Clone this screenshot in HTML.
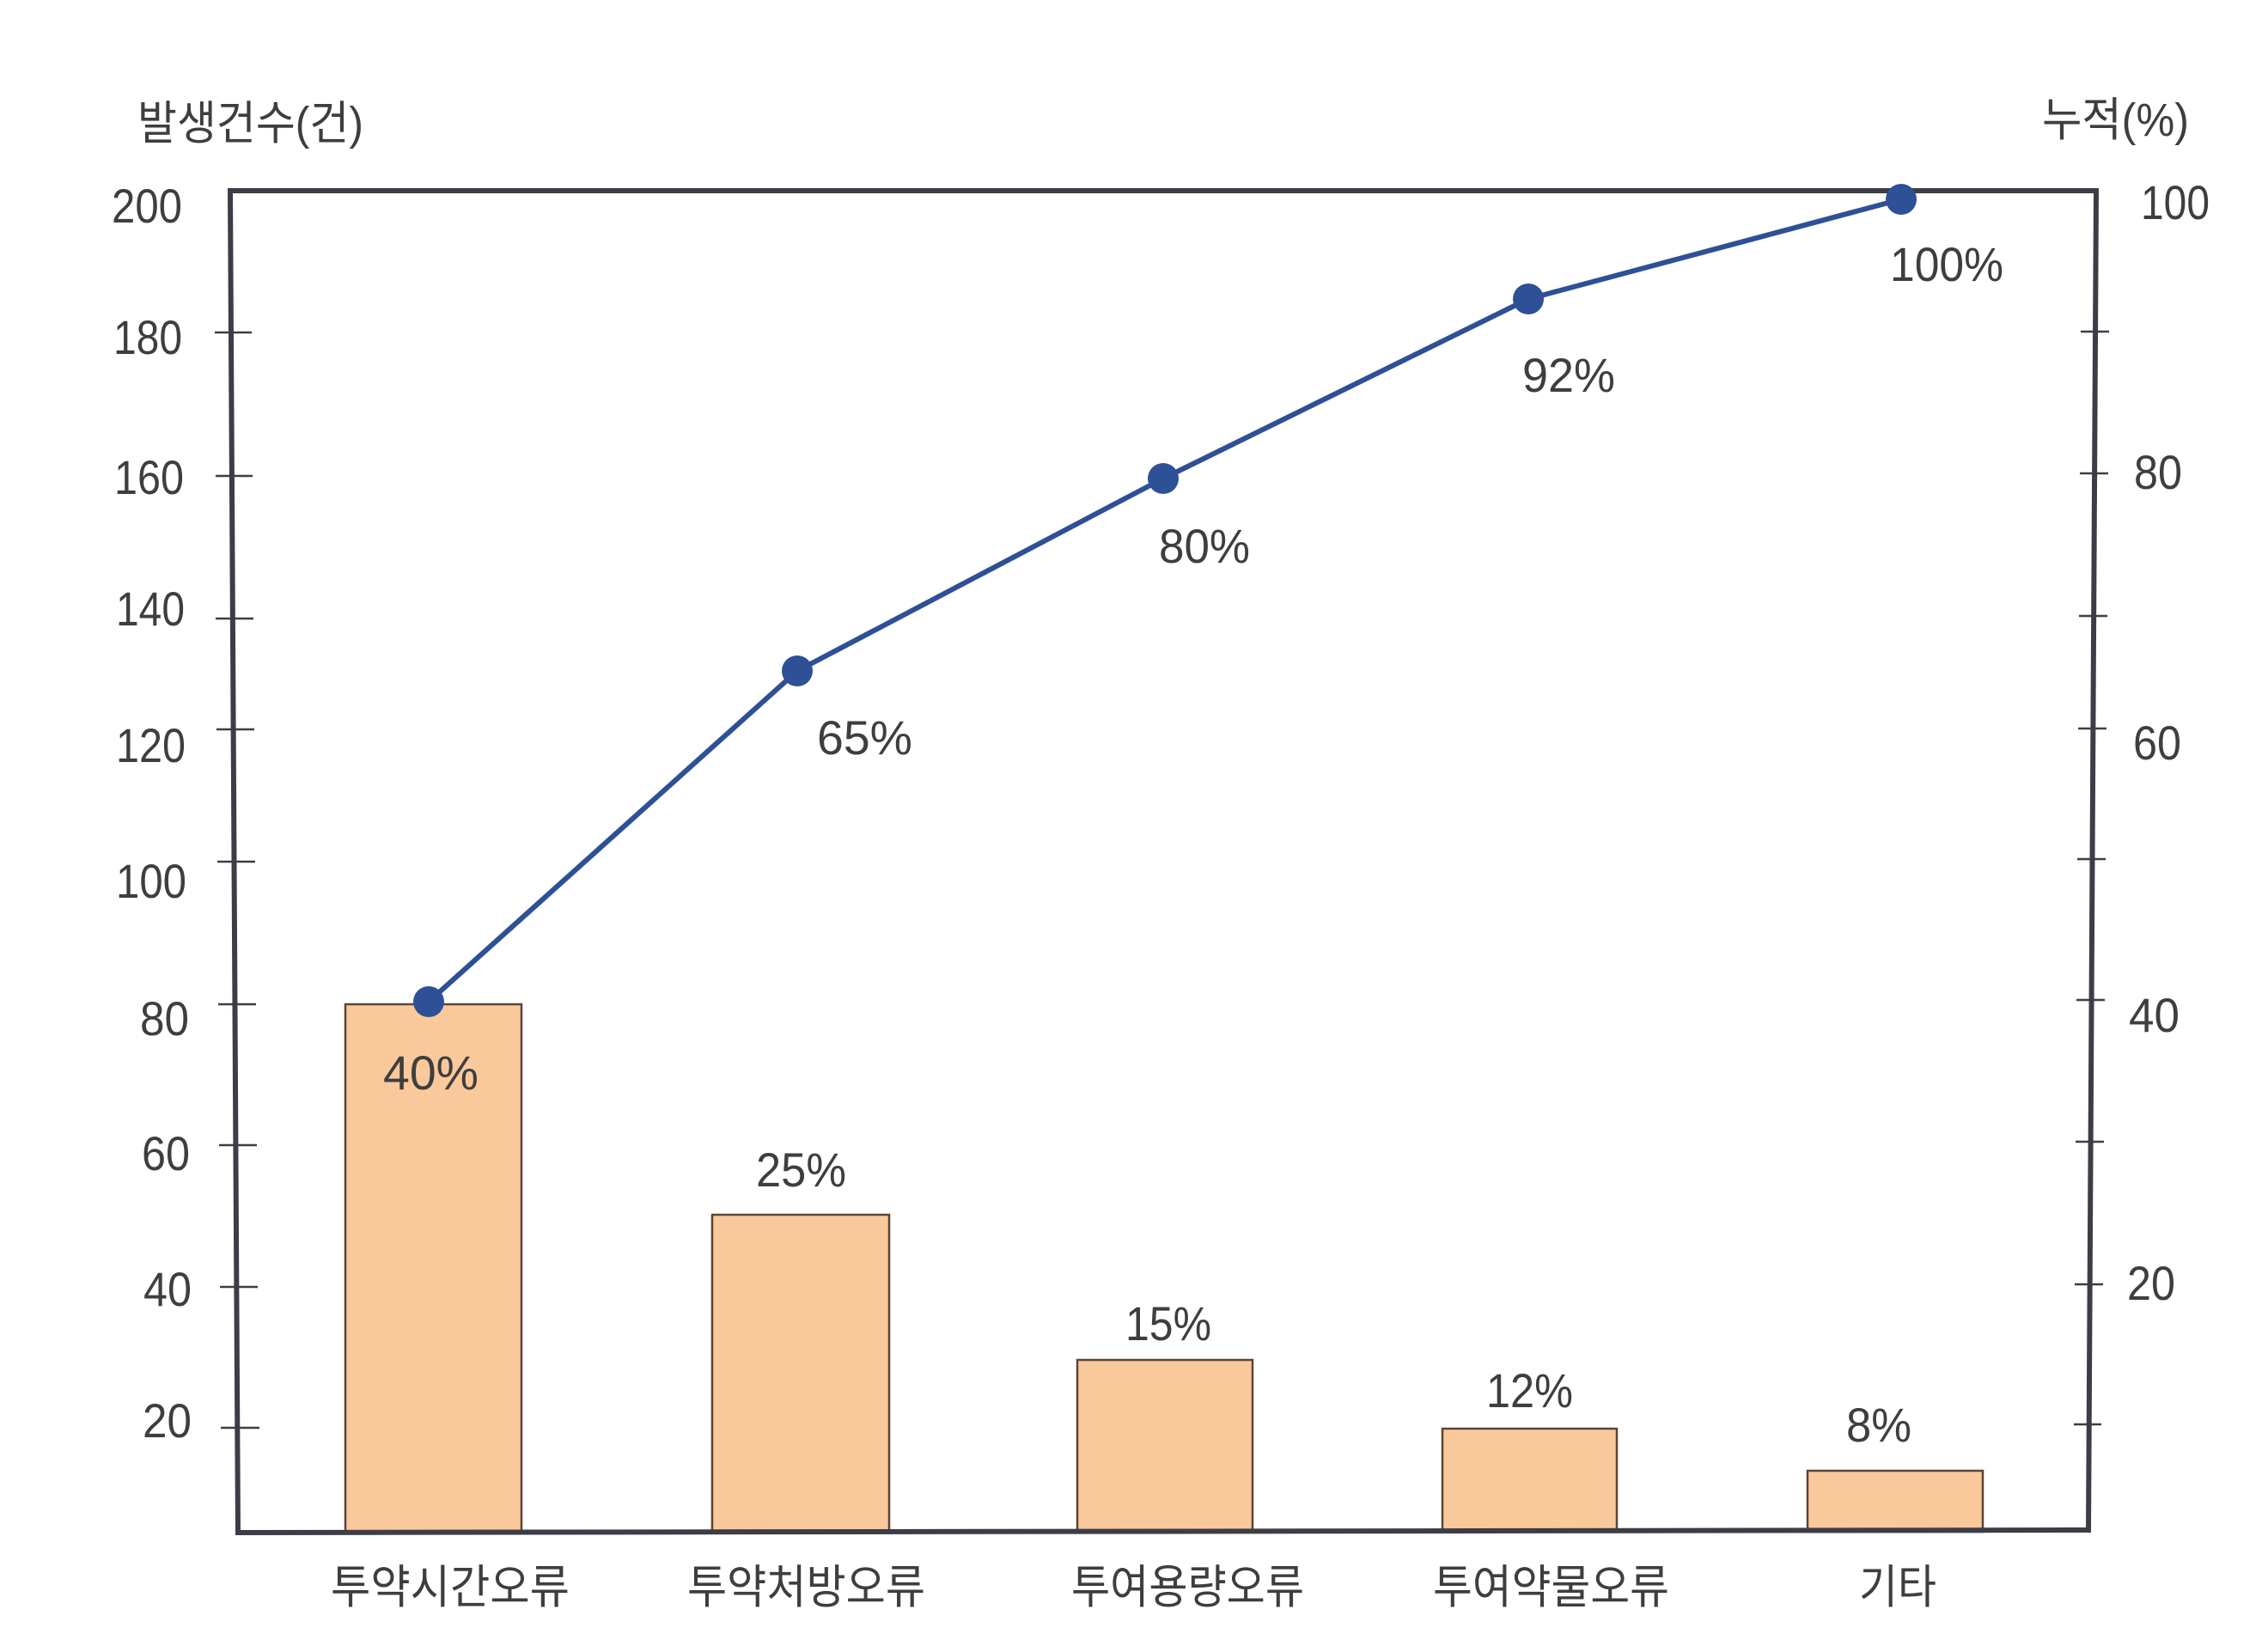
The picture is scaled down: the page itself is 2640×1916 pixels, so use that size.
<!DOCTYPE html>
<html>
<head>
<meta charset="utf-8">
<style>
  html,body{margin:0;padding:0;background:#ffffff;}
  svg{display:block;}
  text{fill:#3e3e3e;}
  .num{font-family:"Liberation Sans","Noto Sans CJK KR",sans-serif;font-size:56px;}
  .kr{font-family:"Liberation Sans","Noto Sans CJK KR",sans-serif;font-size:54px;}
</style>
</head>
<body>
<svg width="2640" height="1916" viewBox="0 0 2640 1916" xmlns="http://www.w3.org/2000/svg">
  <rect x="0" y="0" width="2640" height="1916" fill="#ffffff"/>

  <!-- axis titles -->
  <text class="kr" x="160" y="162" textLength="263" lengthAdjust="spacingAndGlyphs">발생건수(건)</text>
  <text class="kr" x="2377" y="158" textLength="171" lengthAdjust="spacingAndGlyphs">누적(%)</text>

  <!-- bars -->
  <g fill="#f9c99c" stroke="#5a4636" stroke-width="2.5">
    <rect x="402" y="1169" width="205" height="614"/>
    <rect x="829" y="1414" width="206" height="369"/>
    <rect x="1254" y="1583" width="204" height="200"/>
    <rect x="1679" y="1663" width="203" height="120"/>
    <rect x="2104" y="1712" width="204" height="71"/>
  </g>

  <!-- frame -->
  <polygon points="268,222 2440,222 2431,1781 277,1784" fill="none" stroke="#3d3d47" stroke-width="6" stroke-linejoin="miter"/>

  <!-- left ticks -->
  <g stroke="#3d3d47" stroke-width="2.5">
    <line x1="250" y1="387" x2="293" y2="387"/>
    <line x1="251" y1="554" x2="294" y2="554"/>
    <line x1="251" y1="720" x2="295" y2="720"/>
    <line x1="252" y1="849" x2="296" y2="849"/>
    <line x1="253" y1="1003" x2="297" y2="1003"/>
    <line x1="254" y1="1169" x2="298" y2="1169"/>
    <line x1="255" y1="1333" x2="299" y2="1333"/>
    <line x1="256" y1="1498" x2="300" y2="1498"/>
    <line x1="257" y1="1662" x2="302" y2="1662"/>
  </g>

  <!-- right ticks -->
  <g stroke="#3d3d47" stroke-width="2.5">
    <line x1="2422" y1="386" x2="2455" y2="386"/>
    <line x1="2421" y1="551" x2="2454" y2="551"/>
    <line x1="2420" y1="717" x2="2453" y2="717"/>
    <line x1="2419" y1="848" x2="2452" y2="848"/>
    <line x1="2418" y1="1000" x2="2451" y2="1000"/>
    <line x1="2417" y1="1164" x2="2450" y2="1164"/>
    <line x1="2416" y1="1329" x2="2449" y2="1329"/>
    <line x1="2415" y1="1495" x2="2448" y2="1495"/>
    <line x1="2414" y1="1658" x2="2446" y2="1658"/>
  </g>

  <!-- left tick labels -->
  <g class="num">
    <text x="130" y="259" textLength="82" lengthAdjust="spacingAndGlyphs">200</text>
    <text x="132" y="412" textLength="80" lengthAdjust="spacingAndGlyphs">180</text>
    <text x="133" y="575" textLength="81" lengthAdjust="spacingAndGlyphs">160</text>
    <text x="135" y="728" textLength="80" lengthAdjust="spacingAndGlyphs">140</text>
    <text x="135" y="887" textLength="81" lengthAdjust="spacingAndGlyphs">120</text>
    <text x="135" y="1045" textLength="82" lengthAdjust="spacingAndGlyphs">100</text>
    <text x="163" y="1205" textLength="57" lengthAdjust="spacingAndGlyphs">80</text>
    <text x="165" y="1362" textLength="56" lengthAdjust="spacingAndGlyphs">60</text>
    <text x="167" y="1520" textLength="56" lengthAdjust="spacingAndGlyphs">40</text>
    <text x="166" y="1673" textLength="57" lengthAdjust="spacingAndGlyphs">20</text>
  </g>

  <!-- right tick labels -->
  <g class="num">
    <text x="2492" y="255" textLength="80" lengthAdjust="spacingAndGlyphs">100</text>
    <text x="2484" y="569" textLength="56" lengthAdjust="spacingAndGlyphs">80</text>
    <text x="2483" y="884" textLength="56" lengthAdjust="spacingAndGlyphs">60</text>
    <text x="2478" y="1201" textLength="59" lengthAdjust="spacingAndGlyphs">40</text>
    <text x="2476" y="1513" textLength="56" lengthAdjust="spacingAndGlyphs">20</text>
  </g>

  <!-- cumulative line -->
  <polyline points="499,1166 928,781 1354,557 1779,348 2213,232" fill="none" stroke="#2d5096" stroke-width="6" stroke-linejoin="round"/>
  <g fill="#2d5096">
    <circle cx="499" cy="1166" r="18"/>
    <circle cx="928" cy="781" r="18"/>
    <circle cx="1354" cy="557" r="18"/>
    <circle cx="1779" cy="348" r="18"/>
    <circle cx="2213" cy="232" r="18"/>
  </g>

  <!-- percent labels -->
  <g class="num">
    <text x="446" y="1268" textLength="111" lengthAdjust="spacingAndGlyphs">40%</text>
    <text x="951" y="878" textLength="111" lengthAdjust="spacingAndGlyphs">65%</text>
    <text x="1349" y="655" textLength="106" lengthAdjust="spacingAndGlyphs">80%</text>
    <text x="1772" y="456" textLength="108" lengthAdjust="spacingAndGlyphs">92%</text>
    <text x="2200" y="327" textLength="132" lengthAdjust="spacingAndGlyphs">100%</text>
    <text x="880" y="1381" textLength="105" lengthAdjust="spacingAndGlyphs">25%</text>
    <text x="1310" y="1560" textLength="100" lengthAdjust="spacingAndGlyphs">15%</text>
    <text x="1730" y="1638" textLength="101" lengthAdjust="spacingAndGlyphs">12%</text>
    <text x="2149" y="1678" textLength="76" lengthAdjust="spacingAndGlyphs">8%</text>
  </g>

  <!-- category labels -->
  <g class="kr">
    <text x="385" y="1866" textLength="278" lengthAdjust="spacingAndGlyphs">투약시간오류</text>
    <text x="800" y="1866" textLength="277" lengthAdjust="spacingAndGlyphs">투약처방오류</text>
    <text x="1247" y="1866" textLength="271" lengthAdjust="spacingAndGlyphs">투여용량오류</text>
    <text x="1668" y="1866" textLength="275" lengthAdjust="spacingAndGlyphs">투여약물오류</text>
    <text x="2164" y="1866" textLength="90" lengthAdjust="spacingAndGlyphs">기타</text>
  </g>
</svg>
</body>
</html>
